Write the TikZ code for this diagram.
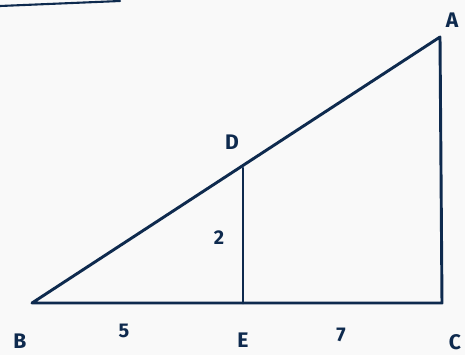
\documentclass[tikz,border=0pt]{standalone}
\usepackage{fontspec}
\setsansfont{Fira Sans}
\usepackage{tikz}
\usetikzlibrary{positioning, calc}
\definecolor{inkblue}{HTML}{0E2A4E}
\definecolor{paper}{HTML}{F9F9F9}

\begin{document}
\begin{tikzpicture}[
        x=0.03cm, y=-0.03cm,
        edge/.style={draw=inkblue, line width=2.5pt, line cap=round, line join=round},
        vertex/.style={inner sep=0pt, text=inkblue, font=\fontsize{18}{20}\selectfont\sffamily\bfseries},
        length/.style={inner sep=0pt, text=inkblue, font=\fontsize{17}{20}\selectfont\sffamily\bfseries}
    ]
        % Page
        \fill[paper] (0,0) rectangle (465,355);
        \useasboundingbox (0,0) rectangle (465,355);

        % Corners of the triangle
        \coordinate (b) at (32,303);
        \coordinate (c) at (442,303);
        \coordinate (a) at (440,37);
        \coordinate (d) at (243,168);
        \coordinate (e) at (243,303);
        \coordinate (s1) at (0,6);
        \coordinate (s2) at (120,1);

        % Stray stroke at the top
        \draw[edge, line width=1.8pt] (s1) -- (s2);

        % Triangle ABC and segment DE
        \draw[edge] (b) -- (c) -- (a) -- cycle;
        \draw[edge] (d) -- (e);

        % Vertex labels
        \node[vertex] (la) at (452,20) {A};
        \node[vertex] (lb) at (20,341) {B};
        \node[vertex] (lc) at (455,342) {C};
        \node[vertex] (ld) at (232,142) {D};
        \node[vertex] (le) at (243,340) {E};

        % Lengths
        \node[length] (l2) at (219,238) {2};
        \node[length] (l5) at (124,331) {5};
        \node[length] (l7) at (341,335) {7};

    \end{tikzpicture}
\end{document}
